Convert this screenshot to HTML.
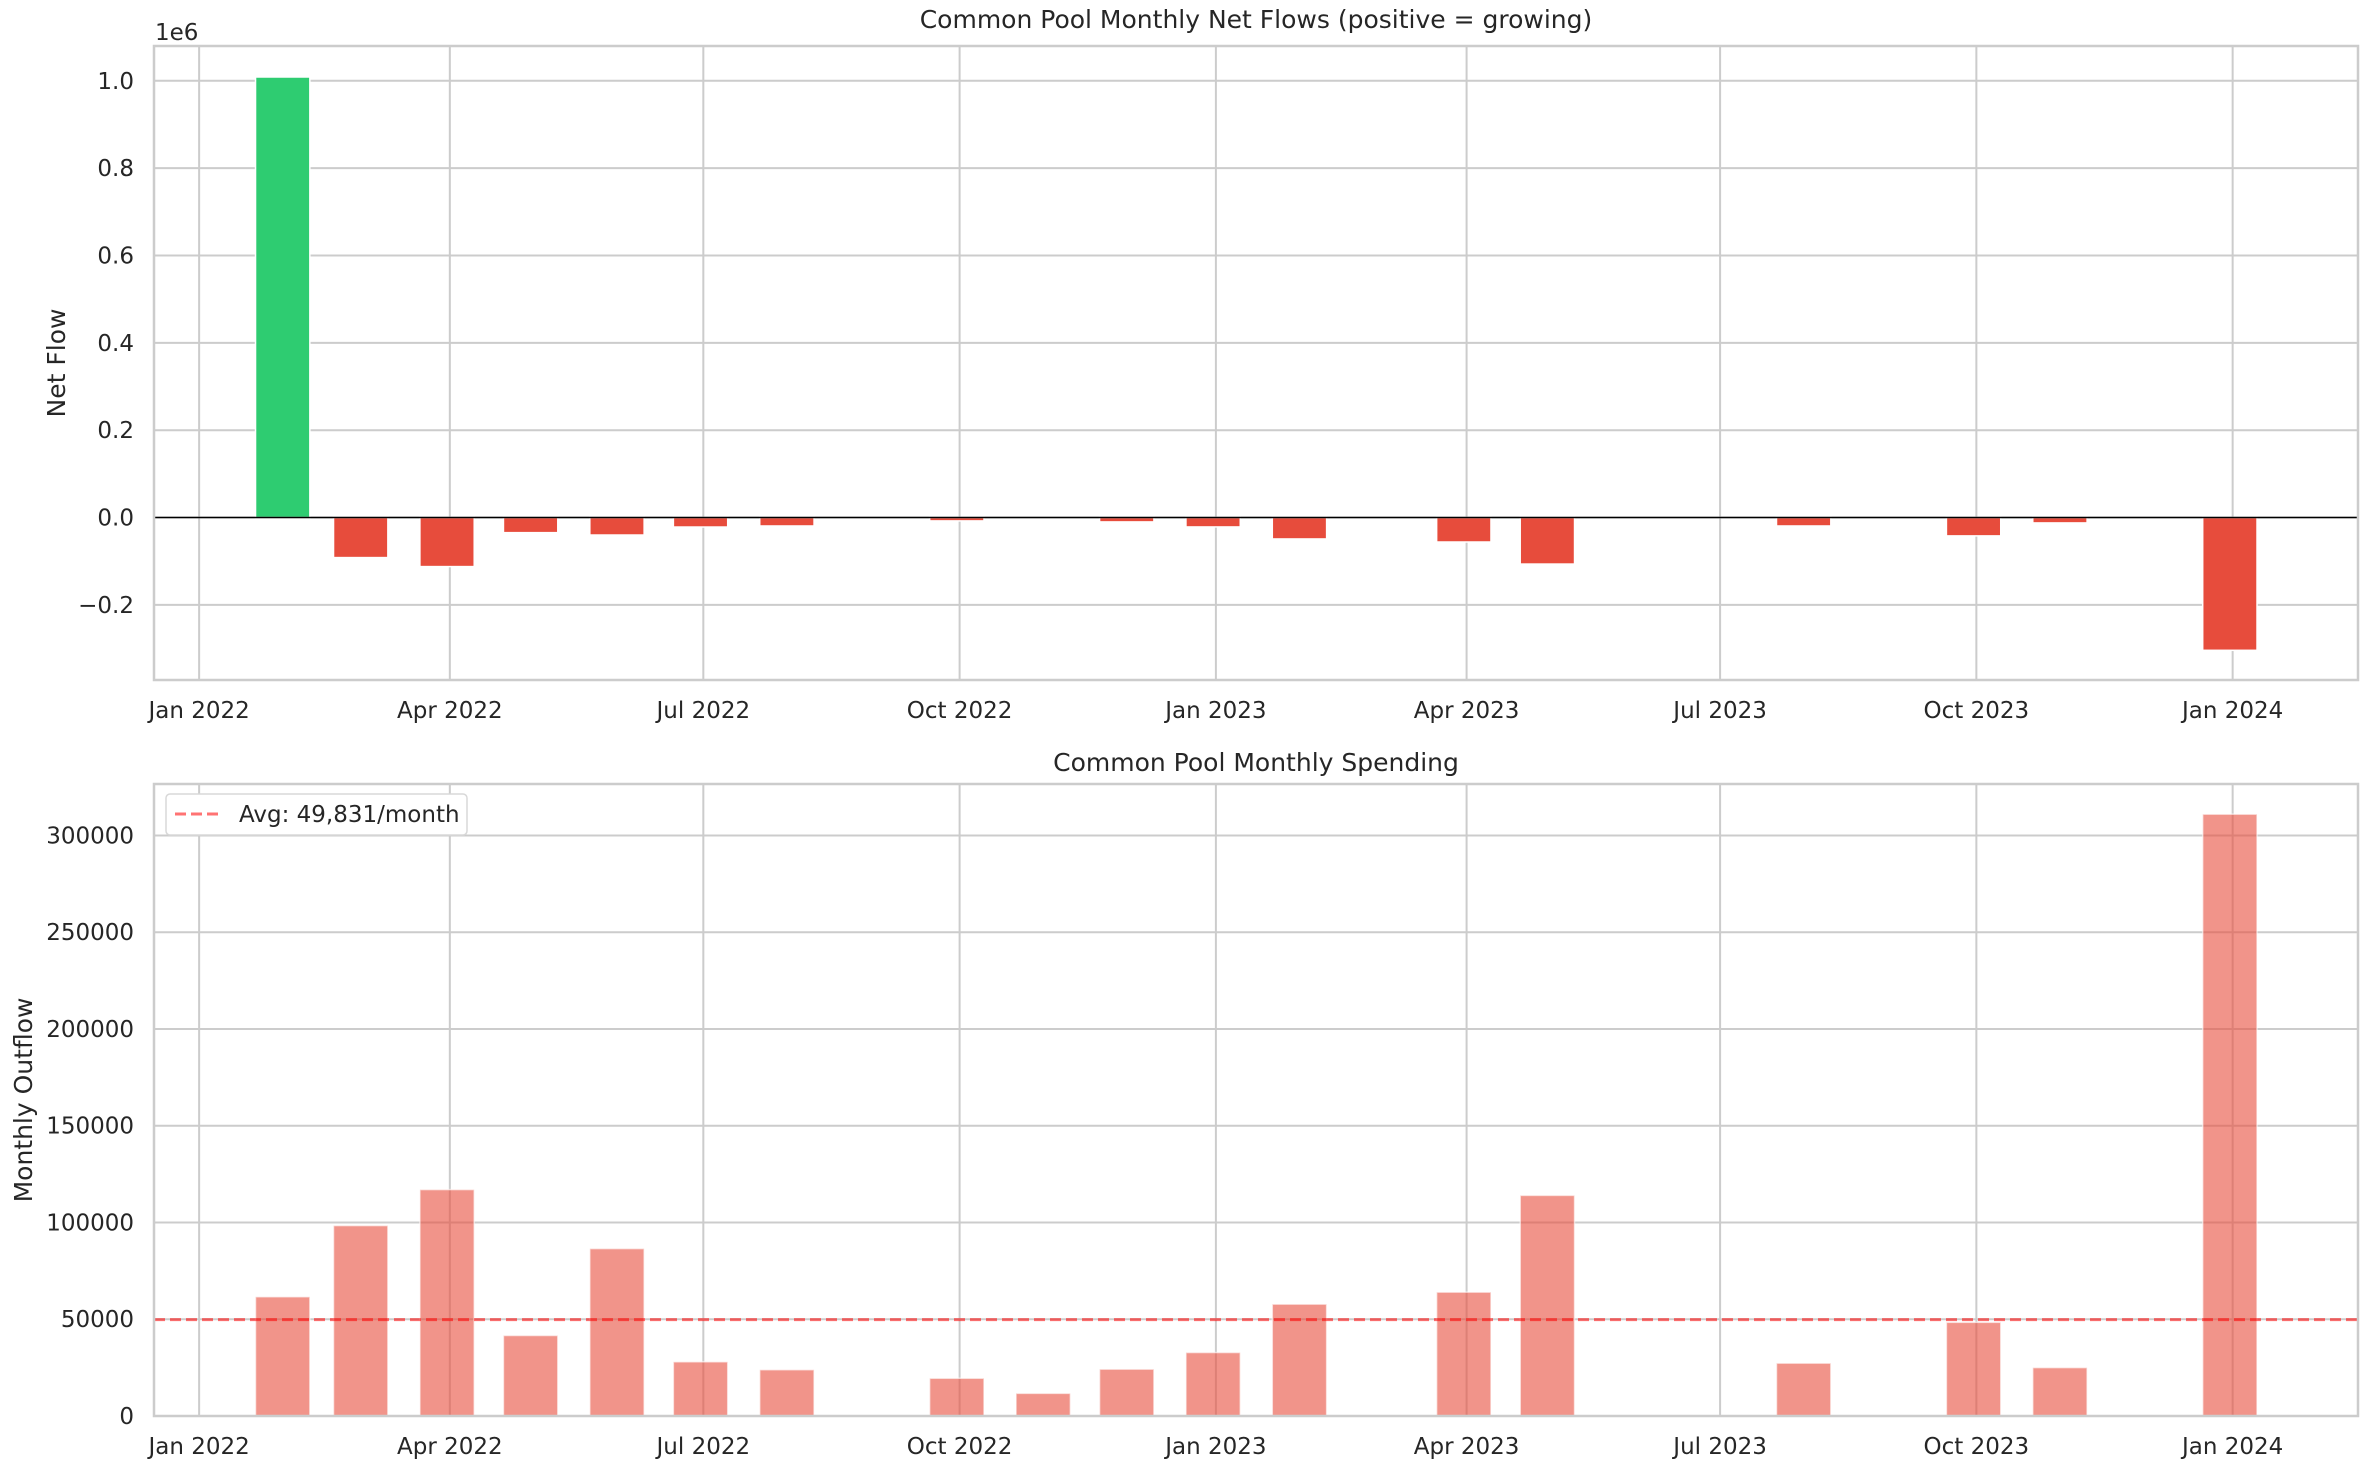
<!DOCTYPE html>
<html><head><meta charset="utf-8">
<style>
html,body{margin:0;padding:0;background:#fff;}
svg{display:block;font-family:"DejaVu Sans","Liberation Sans",sans-serif;}
</style></head>
<body>
<svg id="chart" width="2373" height="1474" viewBox="0 0 2373 1474" xmlns="http://www.w3.org/2000/svg">
<rect x="0" y="0" width="2373" height="1474" fill="#fff"/>
<g id="top"></g>
<g id="bot"></g>
</svg>
<script>
const months = ["2022-01-31","2022-02-28","2022-03-31","2022-04-30","2022-05-31","2022-06-30","2022-07-31","2022-08-31","2022-09-30","2022-10-31","2022-11-30","2022-12-31","2023-01-31","2023-02-28","2023-03-31","2023-04-30","2023-05-31","2023-06-30","2023-07-31","2023-08-31","2023-09-30","2023-10-31","2023-11-30","2023-12-31"];
const netFlow = [1008700,-91700,-112300,-34600,-40000,-21700,-19300,0,-7700,0,-10000,-21500,-49000,0,-56000,-106500,0,0,-19300,0,-42000,-12300,0,-304000];
const spending = [61600,98400,117000,41600,86500,28000,23900,0,19500,11700,24200,32800,57800,0,64000,114000,0,0,27300,0,48400,25000,0,311000];
const avgSpending = 49831;
const xTickDates = ["2022-01-01","2022-04-01","2022-07-01","2022-10-01","2023-01-01","2023-04-01","2023-07-01","2023-10-01","2024-01-01"];
const xTickLabels = ["Jan 2022","Apr 2022","Jul 2022","Oct 2022","Jan 2023","Apr 2023","Jul 2023","Oct 2023","Jan 2024"];
const topTicks = [-0.2,0,0.2,0.4,0.6,0.8,1.0];
const topTickLabels = ["\u22120.2","0.0","0.2","0.4","0.6","0.8","1.0"];
const botTicks = [0,50000,100000,150000,200000,250000,300000];
const botTickLabels = ["0","50000","100000","150000","200000","250000","300000"];

const NS="http://www.w3.org/2000/svg";
const DAY=86400000, T0=Date.UTC(2022,0,1);
function days(s){const p=s.split("-");return (Date.UTC(+p[0],+p[1]-1,+p[2])-T0)/DAY;}
const AX_L=154, AX_R=2358, DMIN=-16.2, DMAX=775;
function xs(d){return AX_L+(d-DMIN)/(DMAX-DMIN)*(AX_R-AX_L);}
function el(tag,attrs,parent,text){const e=document.createElementNS(NS,tag);for(const k in attrs)e.setAttribute(k,attrs[k]);if(text!==undefined)e.textContent=text;parent.appendChild(e);return e;}

function drawAxes(g,top,bot,ymin,ymax,yt,ytl,title,ylabel,ylx,titleY){
  const ys=v=>bot-(v-ymin)/(ymax-ymin)*(bot-top);
  yt.forEach((v,i)=>{
    const l=el("line",{x1:AX_L,x2:AX_R,y1:ys(v),y2:ys(v),stroke:"#cccccc","stroke-width":2},g);
    
    
    const t=el("text",{x:134,y:ys(v)+8,"text-anchor":"end","font-size":23,fill:"#262626"},g,ytl[i]);
    
    
  });
  xTickDates.forEach((d,i)=>{
    const x=xs(days(d));
    const l=el("line",{x1:x,x2:x,y1:top,y2:bot,stroke:"#cccccc","stroke-width":2},g);
    
    
    const t=el("text",{x:x,y:bot+38,"text-anchor":"middle","font-size":23,fill:"#262626"},g,xTickLabels[i]);
    
    
  });
  const tt=el("text",{x:(AX_L+AX_R)/2,y:titleY,"text-anchor":"middle","font-size":25,fill:"#262626"},g,title);
  
  
  const cy=(top+bot)/2;
  const yl=el("text",{x:ylx,y:cy,"text-anchor":"middle","font-size":25,fill:"#262626",transform:`rotate(-90 ${ylx} ${cy})`},g,ylabel);
  
  
  return ys;
}
function frame(g,top,bot){
  const r=el("rect",{x:AX_L,y:top,width:AX_R-AX_L,height:bot-top,fill:"none",stroke:"#cccccc","stroke-width":2.5},g);
  
  
}
const BW=19.5*(AX_R-AX_L)/(DMAX-DMIN);

(function(){
  const g=document.getElementById("top");
  const top=46, bot=680;
  const ys=drawAxes(g,top,bot,-372000,1079700,topTicks.map(v=>v*1e6),topTickLabels,"Common Pool Monthly Net Flows (positive = growing)","Net Flow",65,28);
  months.forEach((m,i)=>{
    const x=xs(days(m)), v=netFlow[i];
    const y0=ys(0), y1=ys(v);
    const r=el("rect",{x:x-BW/2,y:Math.min(y0,y1),width:BW,height:Math.abs(y1-y0),fill:v>=0?"#2ecc71":"#e74c3c",stroke:"#fff","stroke-width":1.5},g);
    
    
  });
  const z=el("line",{x1:AX_L,x2:AX_R,y1:ys(0),y2:ys(0),stroke:"#000","stroke-width":1.5},g);
  
  
  frame(g,top,bot);
  const o=el("text",{x:155,y:40,"font-size":23,fill:"#262626"},g,"1e6");
  
  
})();

(function(){
  const g=document.getElementById("bot");
  const top=784, bot=1416;
  const ys=drawAxes(g,top,bot,0,326600,botTicks,botTickLabels,"Common Pool Monthly Spending","Monthly Outflow",32,771);
  months.forEach((m,i)=>{
    const x=xs(days(m)), v=spending[i];
    if(v<=0) return;
    const r=el("rect",{x:x-BW/2,y:ys(v),width:BW,height:ys(0)-ys(v),fill:"rgba(231,76,60,0.6)",stroke:"rgba(255,255,255,0.6)","stroke-width":1.5},g);
    
    
  });
  const a=el("line",{x1:AX_L,x2:AX_R,y1:ys(avgSpending),y2:ys(avgSpending),stroke:"rgba(255,0,0,0.55)","stroke-width":3,"stroke-dasharray":"11 5"},g);
  
  
  frame(g,top,bot);
  const lg=el("g",{},g);
  
  
  el("rect",{x:166,y:794,width:301,height:41,rx:4,fill:"#fff",stroke:"#d8d8d8","stroke-width":1.5},lg);
  el("line",{x1:175,x2:220,y1:814,y2:814,stroke:"rgba(255,0,0,0.55)","stroke-width":3,"stroke-dasharray":"11 5"},lg);
  const lt=el("text",{x:239,y:822,"font-size":23,fill:"#262626"},lg,"Avg: 49,831/month");
  
  
})();
</script>
</body></html>
